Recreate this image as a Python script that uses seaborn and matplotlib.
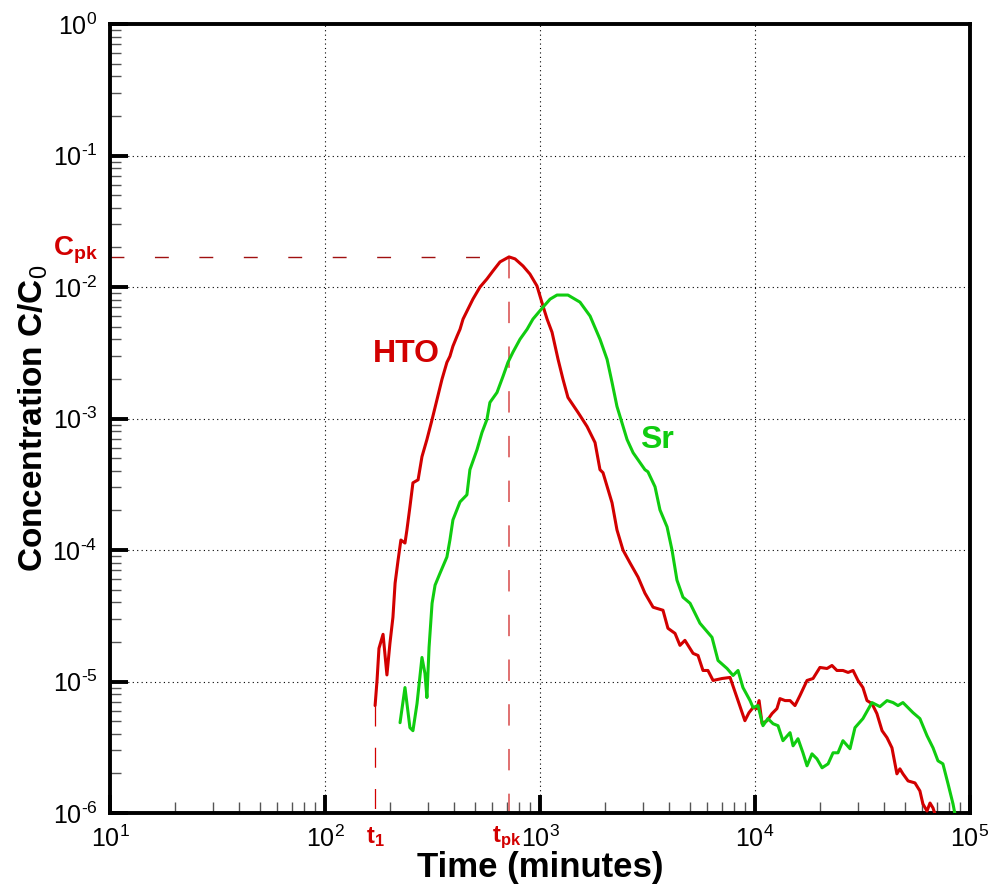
import numpy as np
import pandas as pd
import seaborn as sns
import matplotlib
matplotlib.use("Agg")
import matplotlib.pyplot as plt
import matplotlib.transforms as mtransforms
from matplotlib.ticker import FuncFormatter

# data, as log10 values (time in minutes, C/C0)
hto_log_t = [2.233, 2.242, 2.251, 2.270, 2.288, 2.302, 2.316, 2.326, 2.340, 2.353,
             2.372, 2.381, 2.395, 2.409, 2.433, 2.451, 2.474, 2.498, 2.521, 2.544,
             2.567, 2.581, 2.595, 2.614, 2.628, 2.642, 2.665, 2.688, 2.721, 2.753,
             2.781, 2.814, 2.856, 2.884, 2.921, 2.953, 2.986, 3.014, 3.033, 3.056,
             3.084, 3.107, 3.130, 3.177, 3.219, 3.256, 3.279, 3.293, 3.335, 3.358,
             3.386, 3.419, 3.456, 3.488, 3.526, 3.572, 3.595, 3.628, 3.651, 3.674,
             3.712, 3.735, 3.758, 3.781, 3.805, 3.847, 3.884, 3.921, 3.953, 3.972,
             3.991, 4.009, 4.019, 4.033, 4.056, 4.079, 4.102, 4.116, 4.140, 4.163,
             4.186, 4.209, 4.242, 4.270, 4.302, 4.335, 4.358, 4.381, 4.409, 4.433,
             4.456, 4.479, 4.502, 4.521, 4.544, 4.567, 4.591, 4.614, 4.637, 4.660,
             4.674, 4.688, 4.712, 4.744, 4.767, 4.781, 4.800, 4.814, 4.828, 4.842]
hto_log_c = [-5.183, -4.992, -4.748, -4.641, -4.950, -4.710, -4.511, -4.252, -4.076, -3.924,
             -3.947, -3.847, -3.672, -3.489, -3.466, -3.290, -3.160, -3.008, -2.855, -2.702,
             -2.573, -2.527, -2.450, -2.374, -2.321, -2.244, -2.168, -2.092, -2.000, -1.939,
             -1.878, -1.809, -1.771, -1.786, -1.840, -1.901, -1.992, -2.145, -2.244, -2.344,
             -2.550, -2.702, -2.840, -2.954, -3.061, -3.183, -3.389, -3.412, -3.641, -3.847,
             -4.000, -4.099, -4.206, -4.328, -4.435, -4.458, -4.595, -4.634, -4.725, -4.687,
             -4.786, -4.802, -4.916, -4.916, -4.992, -4.977, -4.969, -5.145, -5.298, -5.237,
             -5.198, -5.206, -5.145, -5.321, -5.298, -5.244, -5.206, -5.130, -5.145, -5.145,
             -5.183, -5.107, -4.992, -4.977, -4.893, -4.901, -4.878, -4.916, -4.916, -4.931,
             -4.916, -4.992, -5.046, -5.145, -5.168, -5.244, -5.374, -5.427, -5.504, -5.702,
             -5.664, -5.702, -5.756, -5.771, -5.832, -5.931, -5.985, -5.924, -5.962, -6.031]

sr_log_t = [2.349, 2.372, 2.395, 2.409, 2.428, 2.451, 2.465, 2.474, 2.484, 2.498,
            2.512, 2.535, 2.567, 2.581, 2.595, 2.628, 2.660, 2.674, 2.707, 2.730,
            2.753, 2.767, 2.800, 2.828, 2.851, 2.874, 2.907, 2.940, 2.967, 3.014,
            3.047, 3.079, 3.130, 3.186, 3.233, 3.279, 3.312, 3.335, 3.358, 3.381,
            3.405, 3.433, 3.488, 3.502, 3.535, 3.558, 3.591, 3.614, 3.637, 3.665,
            3.698, 3.744, 3.800, 3.828, 3.870, 3.898, 3.921, 3.944, 3.977, 3.991,
            4.014, 4.037, 4.060, 4.084, 4.107, 4.130, 4.163, 4.177, 4.200, 4.223,
            4.242, 4.265, 4.288, 4.312, 4.340, 4.363, 4.386, 4.409, 4.442, 4.465,
            4.502, 4.544, 4.581, 4.614, 4.642, 4.665, 4.688, 4.735, 4.767, 4.800,
            4.828, 4.851, 4.874, 4.898, 4.921, 4.930]
sr_log_c = [-5.313, -5.046, -5.351, -5.374, -5.168, -4.817, -4.939, -5.122, -4.740, -4.405,
            -4.267, -4.176, -4.053, -3.924, -3.771, -3.634, -3.580, -3.389, -3.237, -3.107,
            -3.008, -2.878, -2.802, -2.679, -2.573, -2.496, -2.397, -2.321, -2.244, -2.153,
            -2.092, -2.061, -2.061, -2.115, -2.221, -2.397, -2.550, -2.725, -2.908, -3.031,
            -3.160, -3.260, -3.389, -3.405, -3.519, -3.695, -3.824, -4.000, -4.229, -4.359,
            -4.405, -4.557, -4.664, -4.840, -4.901, -4.954, -4.916, -5.046, -5.145, -5.198,
            -5.183, -5.336, -5.282, -5.321, -5.336, -5.450, -5.389, -5.489, -5.435, -5.542,
            -5.641, -5.550, -5.588, -5.656, -5.626, -5.542, -5.542, -5.450, -5.511, -5.351,
            -5.282, -5.160, -5.191, -5.145, -5.160, -5.183, -5.160, -5.237, -5.282, -5.412,
            -5.504, -5.603, -5.626, -5.779, -5.931, -6.008]

# annotation values
t1 = 10 ** 2.233
tpk = 10 ** 2.856
cpk = 10 ** -1.771
c_t1 = 10 ** -5.183

red = "#d20000"
green = "#10cc10"

hto = pd.DataFrame({"t": np.power(10.0, hto_log_t), "c": np.power(10.0, hto_log_c)})
sr = pd.DataFrame({"t": np.power(10.0, sr_log_t), "c": np.power(10.0, sr_log_c)})

sns.set_style("white")
plt.rcParams["font.family"] = ["Liberation Sans", "DejaVu Sans"]
plt.rcParams["mathtext.fontset"] = "custom"
plt.rcParams["mathtext.rm"] = "Liberation Sans"
plt.rcParams["mathtext.it"] = "Liberation Sans:italic"
plt.rcParams["mathtext.bf"] = "Liberation Sans:bold"
plt.rcParams["text.color"] = "black"
plt.rcParams["axes.labelcolor"] = "black"

fig = plt.figure(figsize=(10, 8.9), dpi=100)
ax = fig.add_axes([0.11, 0.0865, 0.86, 0.8865])

sns.lineplot(data=hto, x="t", y="c", color=red, lw=2.2, ax=ax, estimator=None, sort=False, zorder=3)
sns.lineplot(data=sr, x="t", y="c", color=green, lw=2.2, ax=ax, estimator=None, sort=False, zorder=3)

ax.set_xscale("log")
ax.set_yscale("log")
ax.set_xlim(10, 1e5)
ax.set_ylim(1e-6, 1)

# dashed guide lines
ax.plot([10, tpk], [cpk, cpk], color="#a01010", lw=1, dashes=(10, 22), zorder=2)
ax.plot([tpk, tpk], [cpk, 1e-6], color="#e07070", lw=1.4, dashes=(11, 12), zorder=2)
ax.plot([t1, t1], [c_t1, 1e-6], color=red, lw=0.9, dashes=(16, 17), zorder=2)

ax.grid(True, which="major", linestyle=(0, (1, 3)), color="black", linewidth=0.8)
ax.set_axisbelow(True)

for s in ax.spines.values():
    s.set_linewidth(2.8)
    s.set_color("black")

def decade(v, pos):
    e = int(round(np.log10(v)))
    if e < 0:
        return r"$10^{\text{-}%d}$" % (-e)
    return r"$10^{%d}$" % e

ax.xaxis.set_major_formatter(FuncFormatter(decade))
ax.yaxis.set_major_formatter(FuncFormatter(decade))

ax.tick_params(which="major", direction="in", length=13, width=2.8, labelsize=18,
               bottom=True, left=True, top=False, right=False, pad=9, colors="black")
ax.tick_params(which="minor", direction="in", length=8, width=1,
               bottom=True, left=True, top=False, right=False, color="#555555")

ax.set_xlabel("Time (minutes)", fontsize=25, fontweight="bold", labelpad=-1)
ax.set_ylabel(r"Concentration C/C$_\mathrm{0}$", fontsize=24, fontweight="bold", labelpad=2)

# text labels
ax.text(10 ** 2.535, 10 ** -2.51, "HTO", color=red, fontsize=23, fontweight="bold", ha="right", va="center")
ax.text(10 ** 3.465, 10 ** -3.16, "Sr", color=green, fontsize=23, fontweight="bold", ha="left", va="center")

tr_x = mtransforms.blended_transform_factory(ax.transData, ax.transAxes)
ax.text(t1, -0.015, r"t$_\mathbf{1}$", transform=tr_x, color=red, fontsize=17,
        fontweight="bold", ha="center", va="top")
ax.text(tpk / 1.03, -0.015, r"t$_\mathbf{pk}$", transform=tr_x, color=red, fontsize=17,
        fontweight="bold", ha="center", va="top")
tr_y = mtransforms.blended_transform_factory(ax.transAxes, ax.transData)
ax.text(-0.066, cpk * 1.03, r"C$_\mathbf{pk}$", transform=tr_y, color=red, fontsize=20,
        fontweight="bold", ha="left", va="baseline")

plt.savefig("out.png", dpi=100)
